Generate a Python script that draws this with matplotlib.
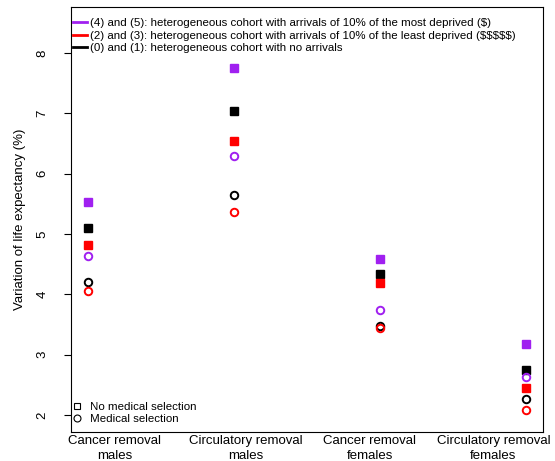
import matplotlib
matplotlib.use('Agg')
import matplotlib.pyplot as plt
from matplotlib.lines import Line2D

plt.rcParams['font.family'] = ['Liberation Sans', 'DejaVu Sans']

# Categories and label positions
categories = ['Cancer removal\nmales', 'Circulatory removal\nmales',
              'Cancer removal\nfemales', 'Circulatory removal\nfemales']
xpos = [1, 2, 3, 4]
label_pos = [1.18, 2.08, 2.93, 3.78]

# Values: no medical selection (squares)
nosel_most = [5.53, 7.75, 4.59, 3.18]     # (4) purple
nosel_least = [4.82, 6.54, 4.18, 2.45]    # (2) red
nosel_none = [5.10, 7.04, 4.34, 2.75]     # (0) black

# Values: medical selection (circles)
sel_most = [4.63, 6.30, 3.74, 2.63]       # (5) purple
sel_least = [4.06, 5.37, 3.44, 2.08]      # (3) red
sel_none = [4.21, 5.64, 3.48, 2.26]       # (1) black

purple = '#A020F0'
red = '#FF0000'
black = '#000000'

fig = plt.figure(figsize=(5.55, 4.61), dpi=100)
ax = fig.add_axes([71/555, 29/461, 472/555, 425/461])

for vals, c in [(nosel_most, purple), (nosel_none, black), (nosel_least, red)]:
    ax.plot(xpos, vals, 's', color=c, ms=5.5, linestyle='none')
for vals, c in [(sel_most, purple), (sel_none, black), (sel_least, red)]:
    ax.plot(xpos, vals, 'o', mfc='none', mec=c, ms=5.4, mew=1.4, linestyle='none')

ax.set_xlim(0.88, 4.12)
ax.set_ylim(1.72, 8.76)
ax.set_yticks([2, 3, 4, 5, 6, 7, 8])
ax.set_yticklabels(['2', '3', '4', '5', '6', '7', '8'], rotation=90, va='center', fontsize=9.5)
ax.tick_params(axis='y', length=5, width=0.8, pad=11)
ax.set_xticks(label_pos)
ax.set_xticklabels(categories, fontsize=9.5, linespacing=1.3)
ax.tick_params(axis='x', length=0, pad=2.5)
ax.set_ylabel('Variation of life expectancy (%)', fontsize=9.5, labelpad=8)
for s in ax.spines.values():
    s.set_linewidth(0.8)

top_handles = [Line2D([], [], color=purple, lw=2),
               Line2D([], [], color=red, lw=2),
               Line2D([], [], color=black, lw=2)]
top_labels = ['(4) and (5): heterogeneous cohort with arrivals of 10% of the most deprived ($)',
              '(2) and (3): heterogeneous cohort with arrivals of 10% of the least deprived ($$$$$)',
              '(0) and (1): heterogeneous cohort with no arrivals']
leg1 = ax.legend(top_handles, top_labels, loc='upper left', bbox_to_anchor=(0.004, 0.975),
                 frameon=False, fontsize=8.25, handlelength=1.2, handletextpad=0.25,
                 labelspacing=0.25, borderaxespad=0, borderpad=0)
ax.add_artist(leg1)

bot_handles = [Line2D([], [], marker='s', mfc='none', mec=black, ms=5, mew=0.8, ls='none'),
               Line2D([], [], marker='o', mfc='none', mec=black, ms=5, mew=0.8, ls='none')]
ax.legend(bot_handles, ['No medical selection', 'Medical selection'], loc='lower left',
          bbox_to_anchor=(0.003, 0.019), frameon=False, fontsize=8.25, handlelength=0.8,
          handletextpad=0.75, labelspacing=0.2, borderaxespad=0, borderpad=0)

fig.savefig('out.png', dpi=100)
